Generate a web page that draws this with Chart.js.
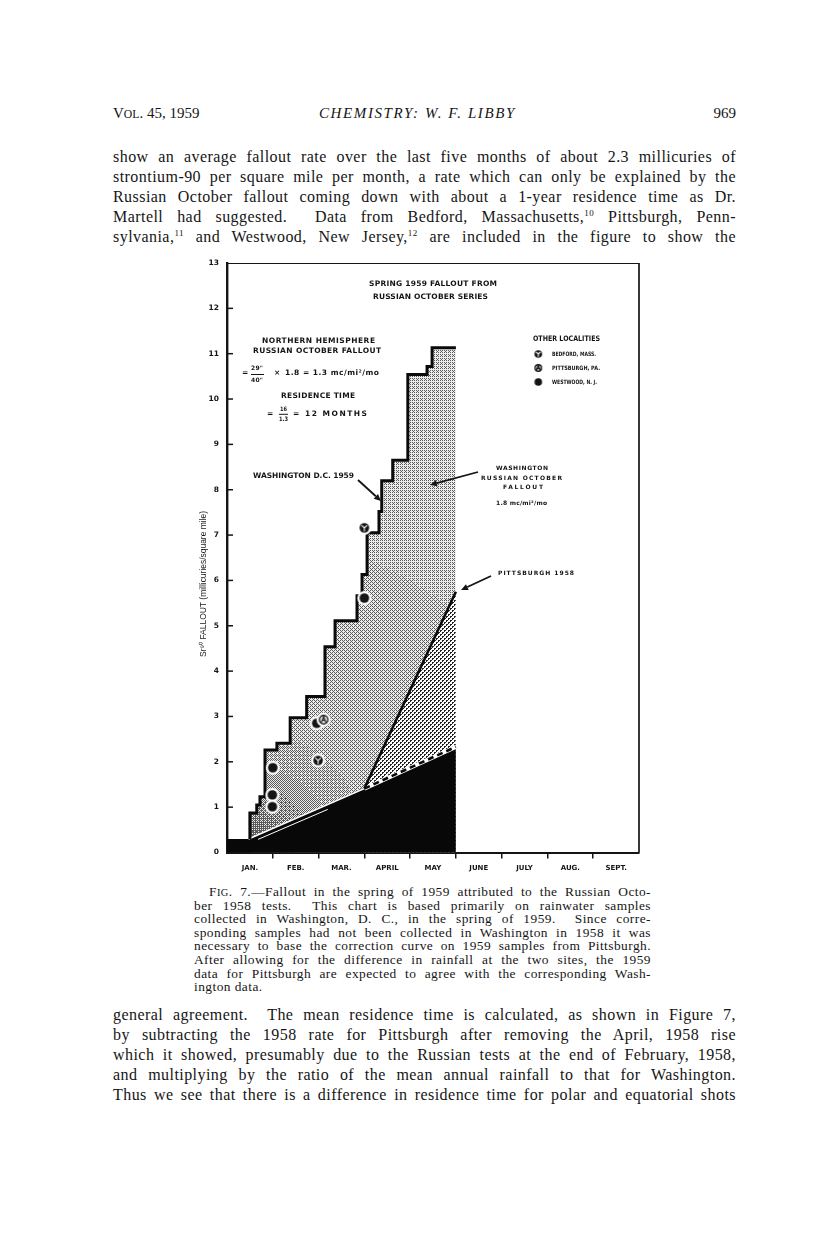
<!DOCTYPE html>
<html><head><meta charset="utf-8">
<script src="https://cdn.jsdelivr.net/npm/chart.js@4.4.0/dist/chart.umd.min.js"></script>
<style>
html,body{margin:0;padding:0;background:#fff;}
body{width:816px;height:1249px;position:relative;overflow:hidden;font-family:"Liberation Serif","Times New Roman",serif;color:#151515;}
.hd{position:absolute;font-size:15px;line-height:18px;white-space:nowrap;}
.ln{position:absolute;left:113px;width:623px;text-align:justify;text-align-last:justify;font-size:16px;line-height:20px;letter-spacing:0.45px;}
.cap{position:absolute;left:194px;width:457px;text-align:justify;text-align-last:justify;font-size:13.4px;line-height:14px;letter-spacing:0.45px;}
.sc{font-size:0.78em;}
sup{font-size:9px;line-height:0;vertical-align:6px;}
#wrap{position:absolute;left:160px;top:250px;width:500px;height:630px;}
</style>
</head>
<body>
<div class="hd" style="left:113px;top:104px;">V<span class="sc">OL</span>. 45, 1959</div>
<div class="hd" style="left:319px;top:104px;font-style:italic;letter-spacing:1.6px;">CHEMISTRY: W. F. LIBBY</div>
<div class="hd" style="right:80px;top:104px;">969</div>

<div class="ln" style="top:147px">show an average fallout rate over the last five months of about 2.3 millicuries of</div>
<div class="ln" style="top:167px">strontium-90 per square mile per month, a rate which can only be explained by the</div>
<div class="ln" style="top:187px">Russian October fallout coming down with about a 1-year residence time as Dr.</div>
<div class="ln" style="top:207px">Martell had suggested.&nbsp; Data from Bedford, Massachusetts,<sup>10</sup> Pittsburgh, Penn-</div>
<div class="ln" style="top:227px">sylvania,<sup>11</sup> and Westwood, New Jersey,<sup>12</sup> are included in the figure to show the</div>

<div id="wrap"><canvas id="c" width="500" height="630"></canvas></div>

<div class="cap" style="top:885px;left:209px;width:442px;">F<span class="sc">IG</span>. 7.—Fallout in the spring of 1959 attributed to the Russian Octo-</div>
<div class="cap" style="top:898.6px">ber 1958 tests.&nbsp; This chart is based primarily on rainwater samples</div>
<div class="cap" style="top:912.2px">collected in Washington, D. C., in the spring of 1959.&nbsp; Since corre-</div>
<div class="cap" style="top:925.8px">sponding samples had not been collected in Washington in 1958 it was</div>
<div class="cap" style="top:939.4px">necessary to base the correction curve on 1959 samples from Pittsburgh.</div>
<div class="cap" style="top:953px">After allowing for the difference in rainfall at the two sites, the 1959</div>
<div class="cap" style="top:966.6px">data for Pittsburgh are expected to agree with the corresponding Wash-</div>
<div class="cap" style="top:980.2px;text-align:left;text-align-last:left;">ington data.</div>

<div class="ln" style="top:1005px">general agreement.&nbsp; The mean residence time is calculated, as shown in Figure 7,</div>
<div class="ln" style="top:1025px">by subtracting the 1958 rate for Pittsburgh after removing the April, 1958 rise</div>
<div class="ln" style="top:1045px">which it showed, presumably due to the Russian tests at the end of February, 1958,</div>
<div class="ln" style="top:1065px">and multiplying by the ratio of the mean annual rainfall to that for Washington.</div>
<div class="ln" style="top:1085px">Thus we see that there is a difference in residence time for polar and equatorial shots</div>

<script>
// ---------------- DATA ----------------
const months = ['JAN.', 'FEB.', 'MAR.', 'APRIL', 'MAY', 'JUNE', 'JULY', 'AUG.', 'SEPT.'];
const yTickValues = [0,1,2,3,4,5,6,7,8,9,10,11,12,13];

// Washington D.C. 1959 cumulative Sr90 fallout (step curve), x = months since Jan 1
const washX = [0.50, 0.50, 0.65, 0.72, 0.83, 1.09, 1.38, 1.74, 2.14, 2.36, 2.84, 2.95, 3.06, 3.32, 3.38, 3.62, 3.95, 4.37, 4.48, 5.00];
const washY = [0.30, 0.87, 1.05, 1.23, 2.26, 2.41, 2.97, 3.44, 4.54, 5.11, 5.66, 6.13, 7.05, 7.52, 8.20, 8.65, 10.54, 10.72, 11.13, 11.13];

// Pittsburgh 1958 line
const pittX = [3.00, 5.00];
const pittY = [1.41, 5.75];

// Correction (black wedge) upper boundary
const corrX = [0.00, 0.47, 5.00];
const corrY = [0.30, 0.30, 2.33];
// segments of that boundary (white edge up to April, dashed after)
const edgeX = [0.47, 3.00];
const edgeY = [0.30, 1.41];
const dashX = [3.00, 5.00];
const dashY = [1.41, 2.33];
// thin white line inside the black wedge
const innerX = [0.68, 2.20];
const innerY = [0.29, 0.95];

// Other localities
const bedfordX = [3.00, 1.99];
const bedfordY = [7.16, 2.03];
const pittsburghX = [2.11];
const pittsburghY = [2.93];
const westwoodX = [1.96, 1.00, 0.99, 0.99, 3.00];
const westwoodY = [2.85, 1.87, 1.27, 1.01, 5.61];

// ---------------- HELPERS ----------------
const pts = (xs, ys) => xs.map((x, i) => ({x: x, y: ys[i]}));
const OX = 160, OY = 250;   // canvas offset on page
const INK = '#141414';

const BAYER = [[0,8,2,10],[12,4,14,6],[3,11,1,9],[15,7,13,5]];
function grayPattern(w, h) {
  const c = document.createElement('canvas'); c.width = w; c.height = h;
  const g = c.getContext('2d');
  const img = g.createImageData(w, h);
  const lo = 90, hi = 236;
  for (let y = 0; y < h; y++) for (let x = 0; x < w; x++) {
    const dx = x - 95, dy = y - 590;
    const d = Math.sqrt(dx*dx + dy*dy);
    const base = 186 - 80 * Math.exp(-d / 50);
    const frac = (hi - base) / (hi - lo);          // share of dark pixels
    const t = (BAYER[y % 4][x % 4] + 0.5) / 16;
    const v = t < frac ? lo : hi;
    const k = (y * w + x) * 4;
    img.data[k] = img.data[k+1] = img.data[k+2] = v; img.data[k+3] = 255;
  }
  g.putImageData(img, 0, 0);
  return g.createPattern(c, 'no-repeat');
}
function dotPattern() {
  const c = document.createElement('canvas'); c.width = 4; c.height = 4;
  const g = c.getContext('2d');
  g.fillStyle = '#fff'; g.fillRect(0,0,4,4);
  g.fillStyle = '#222';
  g.fillRect(0,0,2,1); g.fillRect(0,1,1,1);
  g.fillRect(2,2,2,1); g.fillRect(2,3,1,1);
  return g.createPattern(c, 'repeat');
}
function marker(type, r, halo) {
  const R = r + halo;
  const s = Math.ceil(2 * R + 2);
  const c = document.createElement('canvas'); c.width = s; c.height = s;
  const g = c.getContext('2d');
  const m = s / 2;
  if (halo > 0) { g.fillStyle = '#fff'; g.beginPath(); g.arc(m, m, R, 0, Math.PI*2); g.fill(); }
  if (type === 'westwood') {
    g.fillStyle = INK; g.beginPath(); g.arc(m, m, r, 0, Math.PI*2); g.fill();
  } else if (type === 'bedford') {
    g.fillStyle = INK; g.beginPath(); g.arc(m, m, r, 0, Math.PI*2); g.fill();
    g.strokeStyle = '#fff'; g.lineWidth = 1.1;
    g.beginPath();
    g.moveTo(m - r*0.6, m - r*0.55); g.lineTo(m, m); g.lineTo(m + r*0.6, m - r*0.55);
    g.moveTo(m, m); g.lineTo(m, m + r*0.75);
    g.stroke();
  } else {
    g.fillStyle = '#fff'; g.beginPath(); g.arc(m, m, r, 0, Math.PI*2); g.fill();
    g.strokeStyle = INK; g.lineWidth = 1.4; g.beginPath(); g.arc(m, m, r - 0.6, 0, Math.PI*2); g.stroke();
    g.lineWidth = 1.3; g.beginPath();
    g.moveTo(m - r*0.5, m + r*0.6); g.lineTo(m, m - r*0.65); g.lineTo(m + r*0.5, m + r*0.6);
    g.moveTo(m - r*0.3, m + r*0.15); g.lineTo(m + r*0.3, m + r*0.15);
    g.stroke();
  }
  return c;
}
function fitText(ctx, txt, x0, x1, yc, font) {
  ctx.font = font; ctx.textBaseline = 'middle'; ctx.textAlign = 'left';
  const n = Array.from(txt).length;
  if ('letterSpacing' in ctx) ctx.letterSpacing = '0px';
  const w0 = ctx.measureText(txt).width;
  const target = x1 - x0;
  let sp = n > 1 ? (target - w0) / (n - 1) : 0;
  if ('letterSpacing' in ctx && sp >= -0.4) {
    ctx.letterSpacing = sp + 'px';
    ctx.fillText(txt, x0, yc);
    ctx.letterSpacing = '0px';
  } else {
    ctx.save(); ctx.translate(x0, yc); ctx.scale(target / w0, 1); ctx.fillText(txt, 0, 0); ctx.restore();
  }
}
function arrow(ctx, x0, y0, x1, y1) {
  const a = Math.atan2(y1 - y0, x1 - x0);
  const L = 7, W = 3.2;
  const bx = x1 - L * Math.cos(a), by = y1 - L * Math.sin(a);
  ctx.strokeStyle = INK; ctx.lineWidth = 1.8;
  ctx.beginPath(); ctx.moveTo(x0, y0); ctx.lineTo(bx, by); ctx.stroke();
  ctx.fillStyle = INK; ctx.beginPath();
  ctx.moveTo(x1, y1);
  ctx.lineTo(bx + W * Math.sin(a), by - W * Math.cos(a));
  ctx.lineTo(bx - W * Math.sin(a), by + W * Math.cos(a));
  ctx.closePath(); ctx.fill();
}

const grayPat = grayPattern(500, 630);
const dotPat = dotPattern();
const imgBed = marker('bedford', 4.8, 2.2), imgPit = marker('pittsburgh', 4.8, 2.2), imgWes = marker('westwood', 4.8, 2.2);
const legBed = marker('bedford', 3.8, 0), legPit = marker('pittsburgh', 3.8, 0), legWes = marker('westwood', 3.8, 0);

const B = 'bold 7.5px "DejaVu Sans", sans-serif';
const Bs = 'bold 6px "DejaVu Sans", sans-serif';
// annotation text: [text, x0, x1, yCenter, font] (page px)
const notes = [
  ['SPRING 1959 FALLOUT FROM', 369, 497, 284, B],
  ['RUSSIAN OCTOBER SERIES', 373, 488, 297, B],
  ['NORTHERN HEMISPHERE', 262, 375, 341, B],
  ['RUSSIAN OCTOBER FALLOUT', 253, 381, 351, B],
  ['=', 242, 247, 373, B],
  ['29"', 251, 263, 368.5, Bs],
  ['40"', 251, 263, 380, Bs],
  ['\u00D7', 274, 280, 373, B],
  ['1.8 = 1.3 mc/mi\u00B2/mo', 285, 379, 373, B],
  ['RESIDENCE TIME', 281, 355, 396, B],
  ['=', 267, 273, 414, B],
  ['16', 280, 287, 409, Bs],
  ['1.3', 279, 288, 419.5, Bs],
  ['= 12 MONTHS', 293, 367, 414, B],
  ['OTHER LOCALITIES', 533, 600, 339, B],
  ['BEDFORD, MASS.', 552, 596, 354, Bs],
  ['PITTSBURGH, PA.', 552, 600, 368, Bs],
  ['WESTWOOD, N. J.', 552, 597, 382, Bs],
  ['WASHINGTON D.C. 1959', 253, 354, 476, B],
  ['WASHINGTON', 496, 548, 468, Bs],
  ['RUSSIAN OCTOBER', 481, 562, 478, Bs],
  ['FALLOUT', 503, 543, 487, Bs],
  ['1.8 mc/mi\u00B2/mo', 496, 547, 503, Bs],
  ['PITTSBURGH 1958', 498, 574, 573, Bs]
];

const decor = {
  id: 'decor',
  afterDatasetsDraw(chart) {
    const ctx = chart.ctx, a = chart.chartArea, ys = chart.scales.y;
    ctx.save();
    // top & right frame
    ctx.strokeStyle = INK;
    ctx.lineWidth = 1; ctx.beginPath(); ctx.moveTo(a.left, a.top + 0.5); ctx.lineTo(a.right, a.top + 0.5); ctx.stroke();
    ctx.lineWidth = 1.7; ctx.beginPath(); ctx.moveTo(a.right, a.top); ctx.lineTo(a.right, a.bottom); ctx.stroke();
    // inward y ticks
    ctx.lineWidth = 1.5;
    yTickValues.forEach(v => {
      if (v === 0 || v === 13) return;
      const y = ys.getPixelForValue(v);
      ctx.beginPath(); ctx.moveTo(a.left, y); ctx.lineTo(a.left + 6, y); ctx.stroke();
    });
    // fraction bars
    ctx.lineWidth = 1;
    ctx.beginPath(); ctx.moveTo(251 - OX, 374.5 - OY); ctx.lineTo(264 - OX, 374.5 - OY); ctx.stroke();
    ctx.beginPath(); ctx.moveTo(279 - OX, 414.3 - OY); ctx.lineTo(288 - OX, 414.3 - OY); ctx.stroke();
    // text
    ctx.fillStyle = INK;
    notes.forEach(n => fitText(ctx, n[0], n[1] - OX, n[2] - OX, n[3] - OY, n[4]));
    // legend symbols
    ctx.drawImage(legBed, 538.3 - OX - legBed.width/2, 354 - OY - legBed.height/2);
    ctx.drawImage(legPit, 538.3 - OX - legPit.width/2, 368 - OY - legPit.height/2);
    ctx.drawImage(legWes, 538.3 - OX - legWes.width/2, 382 - OY - legWes.height/2);
    // arrows
    arrow(ctx, 358 - OX, 480 - OY, 381 - OX, 501 - OY);
    arrow(ctx, 478 - OX, 472 - OY, 430 - OX, 485 - OY);
    arrow(ctx, 491 - OX, 576 - OY, 461 - OX, 590 - OY);
    // y axis title
    ctx.save();
    ctx.translate(203.5 - OX, 584 - OY);
    ctx.rotate(-Math.PI / 2);
    ctx.fillStyle = '#1a1a1a';
    fitText(ctx, 'Sr\u2079\u2070 FALLOUT (millicuries/square mile)', -73, 73, 0, '8.5px "Liberation Sans", sans-serif');
    ctx.restore();
    ctx.restore();
  }
};

const lineDs = (label, xs, ys, extra) => Object.assign({
  label: label, data: pts(xs, ys), showLine: true, pointRadius: 0, fill: false, borderWidth: 0
}, extra);

new Chart(document.getElementById('c'), {
  type: 'scatter',
  data: {
    datasets: [
      lineDs('Washington D.C. 1959 (area)', washX, washY, {stepped: true, fill: 'origin', backgroundColor: grayPat, order: 9}),
      lineDs('Pittsburgh 1958 (area)', pittX, pittY, {fill: 'origin', backgroundColor: dotPat, order: 8}),
      lineDs('Correction (area)', corrX, corrY, {fill: 'origin', backgroundColor: '#080808', order: 7}),
      lineDs('inner edge', innerX, innerY, {borderColor: '#fff', borderWidth: 1, order: 6}),
      lineDs('edge', edgeX, edgeY, {borderColor: '#fff', borderWidth: 1.6, order: 5}),
      lineDs('dash base', dashX, dashY, {borderColor: '#fff', borderWidth: 4, order: 4}),
      lineDs('dash', dashX, dashY, {borderColor: '#0a0a0a', borderWidth: 2.6, borderDash: [6, 4], order: 3}),
      lineDs('Pittsburgh 1958', pittX, pittY, {borderColor: '#0a0a0a', borderWidth: 2.6, order: 2}),
      lineDs('Washington D.C. 1959', washX, washY, {stepped: true, borderColor: '#0a0a0a', borderWidth: 3, borderJoinStyle: 'miter', order: 1}),
      {label: 'Bedford, Mass.', data: pts(bedfordX, bedfordY), pointStyle: imgBed, showLine: false, order: 0},
      {label: 'Pittsburgh, Pa.', data: pts(pittsburghX, pittsburghY), pointStyle: imgPit, showLine: false, order: 0},
      {label: 'Westwood, N. J.', data: pts(westwoodX, westwoodY), pointStyle: imgWes, showLine: false, order: 0}
    ]
  },
  options: {
    responsive: false,
    animation: false,
    events: [],
    layout: {padding: {top: 13, right: 21, left: 0, bottom: 0}},
    plugins: {
      legend: {display: false},
      tooltip: {enabled: false},
      filler: {drawTime: 'beforeDatasetsDraw'}
    },
    scales: {
      x: {
        type: 'linear', min: 0, max: 9,
        afterFit: s => { s.height = 27.5; },
        afterBuildTicks: s => { s.ticks = months.map((m, i) => ({value: i})).concat([{value: 9}]); },
        ticks: {
          callback: v => (months[v] !== undefined ? months[v] : ''),
          labelOffset: 22.9, padding: 5, maxRotation: 0, autoSkip: false,
          color: INK, font: {family: '"DejaVu Sans", sans-serif', size: 7, weight: 'bold'}
        },
        grid: {
          drawOnChartArea: false, drawTicks: true, tickLength: 6, lineWidth: 1.5,
          color: c => (c.tick && (c.tick.value === 0 || c.tick.value === 9)) ? 'rgba(0,0,0,0)' : INK
        },
        border: {display: true, color: INK, width: 2}
      },
      y: {
        type: 'linear', min: 0, max: 13,
        afterFit: s => { s.width = 67; },
        afterBuildTicks: s => { s.ticks = yTickValues.map(v => ({value: v})); },
        ticks: {
          padding: 8, color: INK,
          font: {family: '"DejaVu Sans", sans-serif', size: 7.5, weight: 'bold'}
        },
        grid: {drawOnChartArea: false, drawTicks: false},
        border: {display: true, color: INK, width: 2.4}
      }
    }
  },
  plugins: [decor]
});
</script>
</body></html>
